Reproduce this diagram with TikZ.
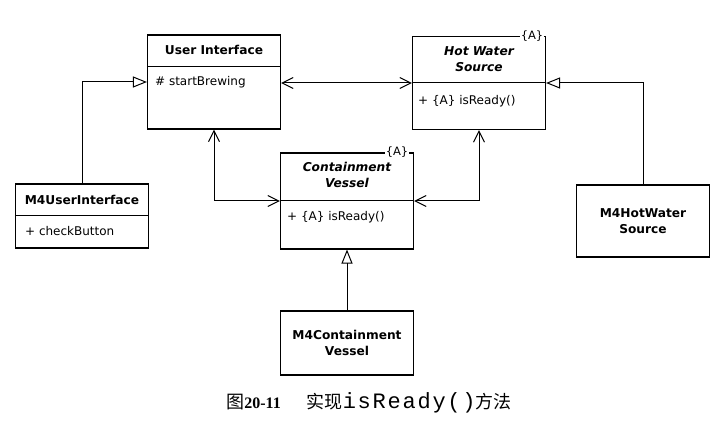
\documentclass[tikz,border=0pt]{standalone}
\usepackage{fontspec}
\setmainfont{DejaVu Sans}
\newfontfamily\cjk{Noto Sans CJK SC}
\newfontfamily\capmono{Liberation Mono}
\newfontfamily\capserif{Liberation Serif}
\usepackage{tikz}
\usetikzlibrary{arrows.meta}
\tikzset{
  classbox/.style={
    draw, line width=1.1pt,      % box frame
    minimum width=133pt, inner sep=0pt
  },
  classname/.style={font=\fontsize{12.2}{16}\selectfont\bfseries, align=center},
  abstractname/.style={font=\fontsize{12.2}{16}\selectfont\bfseries\itshape, align=center},
  member/.style={anchor=west, inner sep=0pt, font=\fontsize{12}{14}\selectfont},
  abstracttag/.style={fill=white, inner sep=1pt, font=\fontsize{11.5}{13}\selectfont},
  assoc/.style={<->, >={Straight Barb[length=11pt,width=11pt]}, line width=1pt},
  inherit/.style={-{Triangle[open,length=14pt,width=11pt]}, line width=1pt}
}

\begin{document}
\begin{tikzpicture}[x=1pt, y=-1pt]
    \useasboundingbox (0,0) rectangle (726,425);

    % Classes
    \node[classbox, minimum height=94pt] (ui) at (214,82) {};
    \node[classname] (ui name) at ([yshift=-16pt]ui.north) {User Interface};
    \draw[line width=1.1pt] ([yshift=-32pt]ui.north west) -- ([yshift=-32pt]ui.north east);
    \node[member] (ui op) at ([xshift=8pt,yshift=-48pt]ui.north west) {\# startBrewing};

    \node[classbox, minimum height=93pt] (hws) at (479,83) {};
    \node[abstractname] (hws name) at ([yshift=-23.5pt]hws.north) {Hot Water\\Source};
    \draw[line width=1.1pt] ([yshift=-46.5pt]hws.north west) -- ([yshift=-46.5pt]hws.north east);
    \node[member] (hws op) at ([xshift=6pt,yshift=-65.5pt]hws.north west) {+ \{A\} isReady()};
    \node[abstracttag] (hws tag) at ([xshift=-14pt]hws.north east) {\{A\}};

    \node[classbox, minimum height=96pt] (cv) at (347,201) {};
    \node[abstractname] (cv name) at ([yshift=-23pt]cv.north) {Containment\\Vessel};
    \draw[line width=1.1pt] ([yshift=-48pt]cv.north west) -- ([yshift=-48pt]cv.north east);
    \node[member] (cv op) at ([xshift=7pt,yshift=-65pt]cv.north west) {+ \{A\} isReady()};
    \node[abstracttag] (cv tag) at ([xshift=-17pt]cv.north east) {\{A\}};

    \node[classbox, minimum height=64pt] (m4ui) at (82,216) {};
    \node[classname] (m4ui name) at ([yshift=-17pt]m4ui.north) {M4UserInterface};
    \draw[line width=1.1pt] ([yshift=-32pt]m4ui.north west) -- ([yshift=-32pt]m4ui.north east);
    \node[member] (m4ui op) at ([xshift=10pt,yshift=-48pt]m4ui.north west) {+ checkButton};

    \node[classbox, classname, minimum height=72pt] (m4hws) at (643,221) {M4HotWater\\Source};
    \node[classbox, classname, minimum height=64pt] (m4cv) at (347,343) {M4Containment\\Vessel};

    % Associations
    \draw[assoc] (ui.east |- hws.west) -- (hws.west);
    \draw[assoc] (ui.south) |- (cv.west);
    \draw[assoc] (hws.south) |- (cv.east);

    % Generalizations
    \draw[inherit] (m4ui.north) |- (ui.west);
    \draw[inherit] (m4hws.north) |- (hws.east);
    \draw[inherit] (m4cv.north) -- (cv.south);

    % Caption
    \node (caption) at (369,403) {{\cjk\fontsize{18}{20}\selectfont 图}{\capserif\bfseries\fontsize{16}{20}\selectfont 20-11}\hspace{26pt}{\cjk\fontsize{18}{20}\selectfont 实现}{\capmono\addfontfeature{LetterSpace=8}\fontsize{22}{22}\selectfont isReady()}{\cjk\fontsize{18}{20}\selectfont 方法}};
\end{tikzpicture}
\end{document}
